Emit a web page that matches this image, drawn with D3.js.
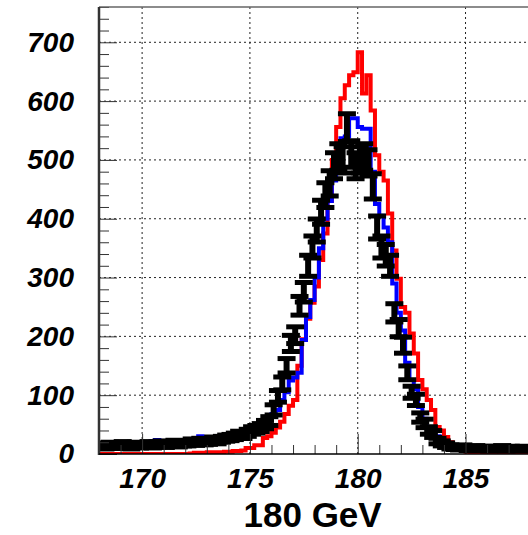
<!DOCTYPE html>
<html>
<head>
<meta charset="utf-8">
<script src="https://d3js.org/d3.v7.min.js"></script>
<style>
  body { margin: 0; background: #fff; }
  svg { display: block; }
  .axis text { font-family: "Liberation Sans", Arial, sans-serif; font-weight: bold; font-style: italic; font-size: 28px; fill: #000; }
  .axis .domain { display: none; }
  .axis line { stroke: #333; }
  .grid line { stroke: #222; stroke-dasharray: 2,3; }
</style>
</head>
<body>
<svg id="chart"></svg>
<script>
// histogram range, 100 bins of 0.2 GeV
var xMin = 168, xMax = 188, nBins = 100;

var majorX = [170, 175, 180, 185];
var majorY = [0, 100, 200, 300, 400, 500, 600, 700];

// red histogram
var redCounts = [
  0,0,0,0,0,0,0,0,0,0,
  0,0,0,0,0,0,0,0,0,0,
  0,1,2,2,2,3,3,3,3,4,
  4,5,5,6,10,10,15,15,27,30,
  36,45,55,68,82,92,150,195,230,257,
  285,330,375,430,500,556,605,627,644,649,
  683,613,644,584,508,480,465,409,346,298,
  250,240,205,171,126,110,92,75,46,40,
  29,20,12,8,5,4,3,2,2,1,
  1,1,0,0,0,0,0,0,0,0
];

// blue histogram
var blueCounts = [
  15,15,16,16,17,17,17,18,18,18,
  19,19,22,24,22,21,21,22,22,23,
  23,24,27,30,29,27,28,30,31,33,
  34,35,37,39,41,44,47,50,55,60,
  68,75,92,105,125,130,138,194,233,262,
  300,350,400,430,465,500,537,540,571,571,
  556,553,553,480,425,405,385,360,290,240,
  210,155,126,110,80,60,46,38,30,25,
  20,17,15,13,12,11,10,10,10,9,
  9,9,8,8,8,8,7,7,7,7
];

// black data points
var dataCounts = [
  15,12,16,14,13,17,15,12,16,14,
  15,17,14,16,18,15,17,19,16,18,
  18,21,19,22,20,21,24,22,25,27,
  28,30,33,32,36,40,42,45,50,56,
  75,98,120,150,188,202,252,275,320,352,
  380,411,440,460,490,505,500,555,510,490,
  500,505,495,455,385,352,338,320,240,214,
  185,138,105,92,62,52,40,34,22,18,
  15,12,11,10,12,9,10,11,9,10,
  8,10,9,11,8,10,9,8,10,9
];

var W = 528, H = 535;
var margin = {top: 7, left: 99, bottom: 81};
var plotW = 431.2, plotH = H - margin.top - margin.bottom;

var svg = d3.select("#chart").attr("width", W).attr("height", H);

var x = d3.scaleLinear().domain([xMin, xMax]).range([margin.left, margin.left + plotW]);
var y = d3.scaleLinear().domain([0, 760]).range([margin.top + plotH, margin.top]);

var binW = (xMax - xMin) / nBins;
var edges = d3.range(nBins).map(function(i) { return xMin + i * binW; });

svg.append("clipPath").attr("id", "frame")
  .append("rect")
    .attr("x", x(xMin)).attr("y", y(760))
    .attr("width", x(xMax) - x(xMin)).attr("height", y(0) - y(760));

// grid (dotted)
var grid = svg.append("g").attr("class", "grid");
grid.selectAll(".gx").data(majorX).enter().append("line")
  .attr("x1", function(d) { return x(d); }).attr("x2", function(d) { return x(d); })
  .attr("y1", y(0)).attr("y2", y(760));
grid.selectAll(".gy").data(majorY.slice(1)).enter().append("line")
  .attr("x1", x(xMin)).attr("x2", x(xMax))
  .attr("y1", function(d) { return y(d); }).attr("y2", function(d) { return y(d); });

// histogram outlines
function stepPath(counts) {
  var pts = counts.map(function(c, i) { return [edges[i], c]; });
  pts.push([xMax, counts[counts.length - 1]]);
  return d3.line()
    .x(function(d) { return x(d[0]); })
    .y(function(d) { return y(d[1]); })
    .curve(d3.curveStepAfter)(pts);
}

var hists = svg.append("g").attr("clip-path", "url(#frame)");
hists.append("path").attr("d", stepPath(redCounts))
  .attr("fill", "none").attr("stroke", "#ff0000").attr("stroke-width", 4);
hists.append("path").attr("d", stepPath(blueCounts))
  .attr("fill", "none").attr("stroke", "#0000ff").attr("stroke-width", 4);

// data points with error bars
var pts = hists.selectAll(".pt").data(dataCounts).enter().append("g").attr("class", "pt")
  .attr("transform", function(d, i) { return "translate(" + x(edges[i] + binW / 2) + ",0)"; });
pts.append("line")
  .attr("x1", 0).attr("x2", 0)
  .attr("y1", function(d) { return y(d + Math.sqrt(d)); })
  .attr("y2", function(d) { return y(d - Math.sqrt(d)); })
  .attr("stroke", "#000").attr("stroke-width", 6);
pts.append("line")
  .attr("x1", -9).attr("x2", 9)
  .attr("y1", function(d) { return y(d + Math.sqrt(d)); })
  .attr("y2", function(d) { return y(d + Math.sqrt(d)); })
  .attr("stroke", "#000").attr("stroke-width", 5);
pts.append("line")
  .attr("x1", -9).attr("x2", 9)
  .attr("y1", function(d) { return y(d - Math.sqrt(d)); })
  .attr("y2", function(d) { return y(d - Math.sqrt(d)); })
  .attr("stroke", "#000").attr("stroke-width", 5);

// axes, ticks pointing inside the frame
var minorX = d3.range(xMin, xMax + 0.5, 1).filter(function(v) { return majorX.indexOf(v) < 0; });
var minorY = d3.range(0, 761, 20).filter(function(v) { return v % 100 !== 0; });

svg.append("g").attr("class", "axis")
  .attr("transform", "translate(" + margin.left + ",0)")
  .call(d3.axisLeft(y).tickValues(majorY).tickSize(-18).tickPadding(25).tickFormat(d3.format("d")));
svg.append("g").attr("class", "axis")
  .attr("transform", "translate(" + margin.left + ",0)")
  .call(d3.axisLeft(y).tickValues(minorY).tickSize(-10).tickFormat(""));

svg.append("g").attr("class", "axis")
  .attr("transform", "translate(0," + y(0) + ")")
  .call(d3.axisBottom(x).tickValues(majorX).tickSize(-20).tickPadding(14).tickFormat(d3.format("d")));
svg.append("g").attr("class", "axis")
  .attr("transform", "translate(0," + y(0) + ")")
  .call(d3.axisBottom(x).tickValues(minorX).tickSize(-9).tickFormat(""));

// frame lines
svg.append("line").attr("x1", x(xMin)).attr("x2", x(xMax)).attr("y1", y(760)).attr("y2", y(760))
  .attr("stroke", "#666").attr("stroke-width", 1.5);
svg.append("line").attr("x1", x(xMin)).attr("x2", x(xMin)).attr("y1", y(760)).attr("y2", y(0) + 1)
  .attr("stroke", "#333").attr("stroke-width", 2.5);
svg.append("line").attr("x1", x(xMin)).attr("x2", x(xMax)).attr("y1", y(0)).attr("y2", y(0))
  .attr("stroke", "#000").attr("stroke-width", 1.5);

// axis title
svg.append("text")
  .attr("x", (x(xMin) + x(xMax)) / 2 - 2).attr("y", 527)
  .attr("text-anchor", "middle")
  .style("font-family", "'Liberation Sans', Arial, sans-serif")
  .style("font-weight", "bold").style("font-size", "35px")
  .text("180 GeV");
</script>
</body>
</html>
